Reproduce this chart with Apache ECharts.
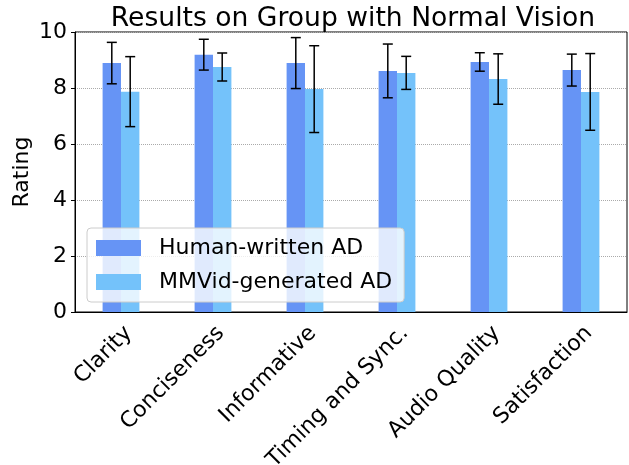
<!DOCTYPE html>
<html>
<head>
<meta charset="utf-8">
<script src="https://cdn.jsdelivr.net/npm/echarts@6/dist/echarts.min.js"></script>
<style>
  html, body { margin: 0; padding: 0; background: #fff; }
  #chart { width: 629px; height: 465px; }
</style>
</head>
<body>
<div id="chart"></div>
<script>
// 数据
var categories = ['Clarity', 'Conciseness', 'Informative', 'Timing and Sync.', 'Audio Quality', 'Satisfaction'];
var humanMean = [8.89, 9.19, 8.89, 8.61, 8.93, 8.64];
var humanErr = [0.74, 0.55, 0.91, 0.96, 0.33, 0.57];
var mmvidMean = [7.87, 8.75, 7.96, 8.54, 8.32, 7.86];
var mmvidErr = [1.25, 0.50, 1.55, 0.59, 0.90, 1.37];
var yTicks = [0, 2, 4, 6, 8, 10];

var font = 'DejaVu Sans';
var humanColor = '#6694F5';
var mmvidColor = '#74C2FA';
var labelSize = 22;

var myChart = echarts.init(document.getElementById('chart'));

// 误差线
function errorSeries(means, errs, shift) {
  return {
    type: 'custom',
    z: 5,
    silent: true,
    encode: { x: 0, y: 1 },
    data: means.map(function (m, i) { return [i, m, errs[i]]; }),
    renderItem: function (params, api) {
      var band = api.size([1, 0])[0];
      var idx = api.value(0);
      var m = api.value(1);
      var e = api.value(2);
      var hi = api.coord([idx, m + e]);
      var lo = api.coord([idx, m - e]);
      var x = hi[0] + shift * band;
      var cap = 5;
      var style = { stroke: '#000', lineWidth: 1.5 };
      return {
        type: 'group',
        children: [
          { type: 'line', shape: { x1: x, y1: hi[1], x2: x, y2: lo[1] }, style: style },
          { type: 'line', shape: { x1: x - cap, y1: hi[1], x2: x + cap, y2: hi[1] }, style: style },
          { type: 'line', shape: { x1: x - cap, y1: lo[1], x2: x + cap, y2: lo[1] }, style: style }
        ]
      };
    }
  };
}

var option = {
  animation: false,
  textStyle: { fontFamily: font },
  title: {
    text: 'Results on Group with Normal Vision',
    left: 348,
    textAlign: 'center',
    top: 1,
    textStyle: { fontFamily: font, fontSize: 26.6, fontWeight: 'normal', color: '#000' }
  },
  legend: {
    orient: 'vertical',
    left: 87,
    top: 228,
    z: 10,
    padding: [9, 12, 9, 9],
    itemGap: 12,
    itemWidth: 45,
    itemHeight: 16,
    icon: 'rect',
    backgroundColor: 'rgba(255,255,255,0.8)',
    borderColor: '#cccccc',
    borderWidth: 1,
    borderRadius: 4,
    data: ['Human-written AD', 'MMVid-generated AD'],
    textStyle: { fontFamily: font, fontSize: labelSize, color: '#000', padding: [0, 0, 0, 13] }
  },
  grid: {
    left: 75,
    right: 2,
    top: 32,
    bottom: 153,
    containLabel: false,
    outerBoundsMode: 'none',
    show: true,
    borderColor: '#000',
    borderWidth: 1,
    backgroundColor: 'transparent'
  },
  xAxis: {
    type: 'category',
    data: categories,
    axisLine: { lineStyle: { color: '#000', width: 1 } },
    axisTick: { alignWithLabel: true, length: 4, lineStyle: { color: '#000' } },
    axisLabel: {
      rotate: 45,
      fontSize: labelSize,
      color: '#000',
      fontFamily: font,
      margin: 10,
      interval: 0,
      verticalAlign: 'top'
    }
  },
  yAxis: {
    type: 'value',
    min: 0,
    max: 10,
    interval: 2,
    name: 'Rating',
    nameLocation: 'middle',
    nameGap: 42,
    nameMoveOverlap: false,
    nameTextStyle: { fontSize: labelSize, color: '#000', fontFamily: font },
    axisLine: { show: true, lineStyle: { color: '#000', width: 1 } },
    axisTick: { show: true, length: 4, lineStyle: { color: '#000' } },
    axisLabel: {
      fontSize: labelSize,
      color: '#000',
      fontFamily: font,
      margin: 8,
      formatter: function (v) { return yTicks.indexOf(v) >= 0 ? String(v) : ''; }
    },
    splitLine: { show: true, lineStyle: { type: 'dotted', color: '#aaaaaa', width: 1 } }
  },
  series: [
    {
      name: 'Human-written AD',
      type: 'bar',
      barWidth: '20%',
      barGap: '0%',
      itemStyle: { color: humanColor },
      data: humanMean
    },
    {
      name: 'MMVid-generated AD',
      type: 'bar',
      barWidth: '20%',
      barGap: '0%',
      itemStyle: { color: mmvidColor },
      data: mmvidMean
    },
    errorSeries(humanMean, humanErr, -0.1),
    errorSeries(mmvidMean, mmvidErr, 0.1)
  ]
};

myChart.setOption(option);
</script>
</body>
</html>
